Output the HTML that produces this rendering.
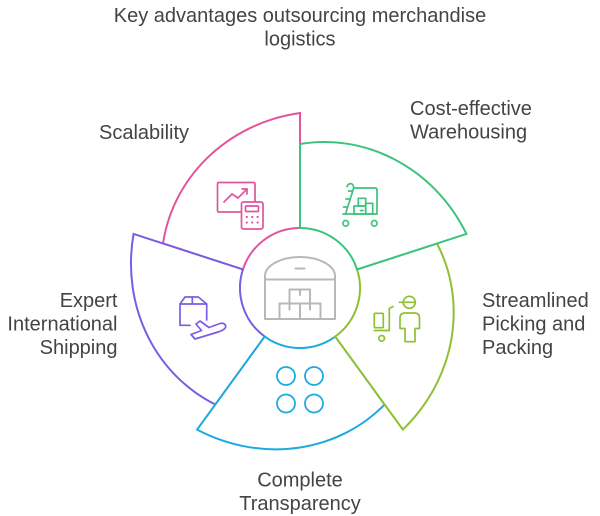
<!DOCTYPE html>
<html>
<head>
<meta charset="utf-8">
<style>
  html,body{margin:0;padding:0;background:#fff;}
  body{width:600px;height:516px;overflow:hidden;}
  svg{display:block;}
  text{font-family:"Liberation Sans", Arial, sans-serif;font-size:20px;fill:#444;}
</style>
</head>
<body>
<svg width="600" height="516" viewBox="0 0 600 516" xmlns="http://www.w3.org/2000/svg">
  <defs>
    <path id="seg" d="M0,-60 L0,-144 A145.94 145.94 0 0 1 23.13,-146.05 A149.81 149.81 0 0 1 46.89,-144.32 A153.69 153.69 0 0 1 70.65,-138.66 A157.56 157.56 0 0 1 93.75,-129.04 A161.44 161.44 0 0 1 115.52,-115.52 A165.31 165.31 0 0 1 135.31,-98.31 A169.19 169.19 0 0 1 152.48,-77.69 A173.06 173.06 0 0 1 166.44,-54.08 L57.06,-18.54 A60 60 0 0 0 0,-60 Z"/>
  </defs>

  <!-- Title -->
  <text x="300" y="22" text-anchor="middle">Key advantages outsourcing merchandise</text>
  <text x="300" y="45.5" text-anchor="middle">logistics</text>

  <!-- Segments (draw order: pink, purple, blue, lime, green) -->
  <g transform="translate(300,288)" fill="#fff" stroke-width="2" stroke-linejoin="miter">
    <use href="#seg" transform="rotate(288)" stroke="#e0559d"/>
    <use href="#seg" transform="rotate(216)" stroke="#7b5ce5"/>
    <use href="#seg" transform="rotate(144)" stroke="#1fa9e1"/>
    <use href="#seg" transform="rotate(72)" stroke="#8fc033"/>
    <use href="#seg" stroke="#3cc47c"/>
  </g>

  <!-- Center warehouse icon -->
  <g fill="none" stroke="#b8b8b8" stroke-width="2" stroke-linejoin="round" stroke-linecap="round">
    <path d="M265 319 V276 A35 19 0 0 1 335 276 V319 Z"/>
    <line x1="265" y1="279.5" x2="335" y2="279.5"/>
    <line x1="295.5" y1="268.5" x2="304.5" y2="268.5"/>
    <rect x="279.5" y="303.5" width="20.5" height="15.5"/>
    <rect x="300" y="303.5" width="20.5" height="15.5"/>
    <rect x="289.5" y="289.5" width="20.5" height="14"/>
    <line x1="300" y1="289.5" x2="300" y2="295"/>
    <line x1="289.5" y1="303.5" x2="289.5" y2="309.5"/>
    <line x1="310" y1="303.5" x2="310" y2="309.5"/>
  </g>

  <!-- Scalability icon (pink) -->
  <g fill="none" stroke="#e0559d" stroke-width="1.7" stroke-linejoin="round" stroke-linecap="round">
    <path d="M241 212 H219 Q217.5 212 217.5 210.5 V184 Q217.5 182.5 219 182.5 H253.5 Q255 182.5 255 184 V201.5"/>
    <path d="M224 202 L232 194 L238 198 L247 189"/>
    <path d="M242 189 H247 V194"/>
    <rect x="241.5" y="202" width="21.5" height="27" rx="2"/>
    <rect x="245.5" y="206" width="13" height="5.5" rx="0.8"/>
  </g>
  <g fill="#e0559d">
    <circle cx="246.8" cy="217" r="1.1"/><circle cx="252.2" cy="217" r="1.1"/><circle cx="257.6" cy="217" r="1.1"/>
    <circle cx="246.8" cy="222.5" r="1.1"/><circle cx="252.2" cy="222.5" r="1.1"/><circle cx="257.6" cy="222.5" r="1.1"/>
  </g>

  <!-- Warehousing icon (green) -->
  <g fill="none" stroke="#3cc47c" stroke-width="1.7" stroke-linejoin="round" stroke-linecap="round">
    <path d="M347 186.5 Q349 182.5 352 184 Q354 185.5 353.5 188.5 L345.5 214"/>
    <line x1="348.5" y1="191" x2="352" y2="191"/>
    <line x1="346" y1="199" x2="349.5" y2="199"/>
    <line x1="343.5" y1="207" x2="347" y2="207"/>
    <path d="M353.8 188 H375 Q377 188 377 190 V214 H343"/>
    <rect x="358.3" y="198.3" width="7.4" height="7.7"/>
    <rect x="354" y="206" width="11.7" height="8"/>
    <rect x="365.7" y="203.3" width="7" height="10.7"/>
    <line x1="360.5" y1="210.5" x2="363" y2="210.5"/>
    <circle cx="345.7" cy="223.3" r="2.8"/>
    <circle cx="374.3" cy="223.3" r="2.8"/>
  </g>

  <!-- Picking icon (lime) -->
  <g fill="none" stroke="#8fc033" stroke-width="1.7" stroke-linejoin="round" stroke-linecap="round">
    <rect x="374.3" y="313.3" width="9" height="14.4" rx="1"/>
    <path d="M393 306.5 L389.3 308.5 V330.5 H374.3"/>
    <circle cx="381.7" cy="338.3" r="2.8"/>
    <circle cx="409.3" cy="302.3" r="6"/>
    <line x1="399.5" y1="302.3" x2="415.3" y2="302.3"/>
    <path d="M405 341.7 V328.5 H400 V318 Q400 313 405 313 H414.5 Q419.5 313 419.5 318 V328.5 H415 V341.7 Z"/>
  </g>

  <!-- Transparency icon (blue) -->
  <g fill="none" stroke="#1fa9e1" stroke-width="1.8">
    <circle cx="286" cy="376" r="9"/>
    <circle cx="314" cy="376" r="9"/>
    <circle cx="286" cy="403.5" r="9"/>
    <circle cx="314" cy="403.5" r="9"/>
  </g>

  <!-- Shipping icon (purple) -->
  <g fill="none" stroke="#7b5ce5" stroke-width="1.7" stroke-linejoin="round" stroke-linecap="round">
    <path d="M190 325.3 H180 V304 L185 297 H198.3 L206.7 304 V320"/>
    <line x1="180" y1="304" x2="206.7" y2="304"/>
    <line x1="192.3" y1="297" x2="192.3" y2="304"/>
    <path d="M196 324 L201.5 330.5 L191 334.5 L195 339 L200 337.5 L218 332 Q227 329 225.5 325.5 Q224 322 218.5 324 L209 327.5 L200 321 Z"/>
  </g>

  <!-- Labels -->
  <text x="99" y="139">Scalability</text>
  <text x="410" y="115">Cost-effective</text>
  <text x="410" y="138.5">Warehousing</text>
  <text x="482" y="307">Streamlined</text>
  <text x="482" y="330.5">Picking and</text>
  <text x="482" y="354">Packing</text>
  <text x="117.5" y="307" text-anchor="end">Expert</text>
  <text x="117.5" y="330.5" text-anchor="end">International</text>
  <text x="117.5" y="354" text-anchor="end">Shipping</text>
  <text x="300" y="486.5" text-anchor="middle">Complete</text>
  <text x="300" y="510" text-anchor="middle">Transparency</text>
</svg>
</body>
</html>
